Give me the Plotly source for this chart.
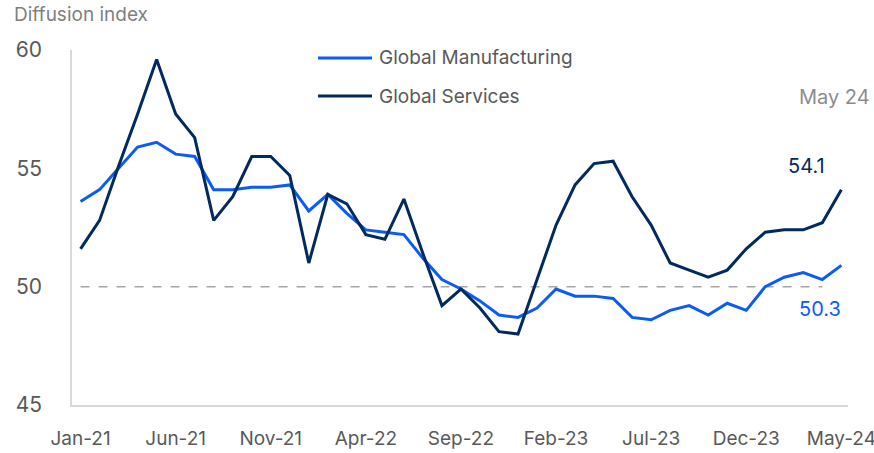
import plotly.graph_objects as go

# Monthly diffusion indices, Jan-21 .. May-24
months = ["Jan-21", "Feb-21", "Mar-21", "Apr-21", "May-21", "Jun-21", "Jul-21", "Aug-21", "Sep-21", "Oct-21",
          "Nov-21", "Dec-21", "Jan-22", "Feb-22", "Mar-22", "Apr-22", "May-22", "Jun-22", "Jul-22", "Aug-22",
          "Sep-22", "Oct-22", "Nov-22", "Dec-22", "Jan-23", "Feb-23", "Mar-23", "Apr-23", "May-23", "Jun-23",
          "Jul-23", "Aug-23", "Sep-23", "Oct-23", "Nov-23", "Dec-23", "Jan-24", "Feb-24", "Mar-24", "Apr-24",
          "May-24"]

manufacturing = [53.6, 54.1, 55.0, 55.9, 56.1, 55.6, 55.5, 54.1, 54.1, 54.2,
                 54.2, 54.3, 53.2, 53.9, 53.1, 52.4, 52.3, 52.2, 51.2, 50.3,
                 49.9, 49.4, 48.8, 48.7, 49.1, 49.9, 49.6, 49.6, 49.5, 48.7,
                 48.6, 49.0, 49.2, 48.8, 49.3, 49.0, 50.0, 50.4, 50.6, 50.3,
                 50.9]

services = [51.6, 52.8, 55.1, 57.3, 59.6, 57.3, 56.3, 52.8, 53.8, 55.5,
            55.5, 54.7, 51.0, 53.9, 53.5, 52.2, 52.0, 53.7, 51.4, 49.2,
            49.9, 49.1, 48.1, 48.0, 50.3, 52.6, 54.3, 55.2, 55.3, 53.8,
            52.6, 51.0, 50.7, 50.4, 50.7, 51.6, 52.3, 52.4, 52.4, 52.7,
            54.1]

series_names = ["Global Manufacturing", "Global Services"]
tick_step = 5
threshold = 50

MFG_BLUE = "#0A5CF5"
SVC_NAVY = "#022A5E"
GREY_TXT = "#595959"
FONT = "Inter, Liberation Sans, Arial, sans-serif"

x = list(range(len(months)))
tickvals = x[::tick_step]
ticktext = months[::tick_step]

fig = go.Figure()

# 50 = no-change threshold
fig.add_trace(go.Scatter(
    x=[x[0], x[-2]], y=[threshold, threshold], mode="lines",
    line=dict(color="#A6A6A6", width=1.5, dash="dash"),
    showlegend=False, hoverinfo="skip"))

fig.add_trace(go.Scatter(
    x=x, y=manufacturing, mode="lines", name=series_names[0],
    line=dict(color=MFG_BLUE, width=3), showlegend=False))

fig.add_trace(go.Scatter(
    x=x, y=services, mode="lines", name=series_names[1],
    line=dict(color=SVC_NAVY, width=3), showlegend=False))

# Hand-placed legend: swatch line + label per series
legend_rows = [(series_names[0], MFG_BLUE, 0.9775), (series_names[1], SVC_NAVY, 0.8704)]
shapes = []
annotations = []
for name, color, yy in legend_rows:
    shapes.append(dict(type="line", xref="paper", yref="paper", x0=0.317, x1=0.3866,
                       y0=yy, y1=yy, line=dict(color=color, width=3)))
    annotations.append(dict(text=name, xref="paper", yref="paper", x=0.393, y=yy,
                            xanchor="left", yanchor="middle", showarrow=False,
                            font=dict(size=19, color=GREY_TXT, family=FONT)))

annotations += [
    dict(text="Diffusion index", xref="paper", yref="paper", x=-0.0773, y=1.0986,
         xanchor="left", yanchor="middle", showarrow=False,
         font=dict(size=19, color="#7F7F7F", family=FONT)),
    dict(text="May 24", xref="paper", yref="paper", x=1.031, y=0.8676,
         xanchor="right", yanchor="middle", showarrow=False,
         font=dict(size=20, color="#8C8C8C", family=FONT)),
    dict(text=f"{services[-1]:.1f}", x=x[-1], y=services[-1], xref="x", yref="y",
         xanchor="center", yanchor="middle", xshift=-35, yshift=24, showarrow=False,
         font=dict(size=20, color=SVC_NAVY, family=FONT)),
    dict(text=f"{manufacturing[-2]:.1f}", x=x[-2], y=manufacturing[-2], xref="x", yref="y",
         xanchor="center", yanchor="middle", xshift=-2, yshift=-29, showarrow=False,
         font=dict(size=20, color=MFG_BLUE, family=FONT)),
]

fig.update_layout(
    width=874, height=453,
    margin=dict(l=72, r=26, t=50, b=48, autoexpand=False),
    paper_bgcolor="white", plot_bgcolor="white",
    font=dict(family=FONT, color=GREY_TXT, size=19),
    showlegend=False,
    shapes=shapes,
    annotations=annotations,
    xaxis=dict(range=[-0.45, 40.35], tickmode="array", tickvals=tickvals, ticktext=ticktext,
               showgrid=False, zeroline=False, showline=True, linecolor="#D9D9D9", linewidth=1.5,
               ticks="", tickfont=dict(size=19, color=GREY_TXT), ticklabelstandoff=15,
               automargin=False, ticklabeloverflow="allow"),
    yaxis=dict(range=[45, 60], tickvals=[45, 50, 55, 60], showgrid=False, zeroline=False,
               showline=True, linecolor="#D9D9D9", linewidth=1.5, ticks="",
               tickfont=dict(size=21, color=GREY_TXT), ticklabelstandoff=24,
               automargin=False),
)

fig.write_html("out.html")
